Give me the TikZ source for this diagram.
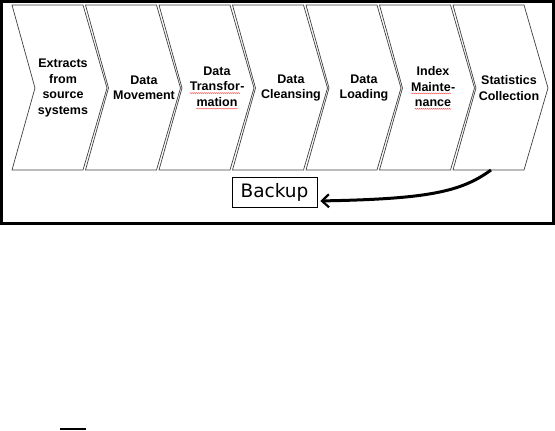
\documentclass[tikz,border=0pt]{standalone}
\usepackage{fontspec}
\usetikzlibrary{arrows.meta,decorations.pathmorphing}
\newfontfamily\arialfont{Liberation Sans}
\newfontfamily\verdanafont{DejaVu Sans}

% spell-check squiggle under a word
\newcommand*{\squig}[1]{\tikz[baseline=(w.base)]{\node[inner sep=0pt] (w) {#1};
	\draw[red!70,line width=0.4pt,decorate,decoration={snake,amplitude=0.5pt,segment length=2pt}]
	([yshift=-2pt]w.south west) -- ([yshift=-2pt]w.south east);}}

\newcommand*{\chevdx}{73.5}
\newcommand*{\chevtop}{5}
\newcommand*{\chevbot}{170}
\newcommand*{\chevmid}{88}

\begin{document}
\begin{tikzpicture}
[
	x=1pt,
	y=-1pt,
	chev/.style={draw=black!75,line width=0.7pt,fill=white},
	steptext/.style={font={\fontsize{12.5}{15.5}\selectfont\bfseries\arialfont},align=center,inner sep=0pt},
	backupbox/.style={draw,line width=0.6pt,inner sep=2pt,minimum width=85pt,minimum height=30pt,font={\fontsize{18.5}{20}\selectfont\verdanafont}},
	bigarrow/.style={line width=3pt,-{Straight Barb[length=7pt,width=13pt,line width=2.2pt]},shorten >=3pt}
]
	\useasboundingbox (0,0) rectangle (555,431);

	% frame
	\draw[line width=3pt] (1.5,1.5) rectangle (553.5,223.5);

	% chevrons
	\foreach \i in {0,...,6}
	{
		\pgfmathsetmacro{\xa}{12+\chevdx*\i}
		\draw[chev] (\xa,\chevtop) -- ++(71,0) -- ++(24,\chevmid-\chevtop) -- (\xa+71,\chevbot)
			-- (\xa,\chevbot) -- (\xa+23,\chevmid) -- cycle;
	}

	% step labels
	\node[steptext] (extract) at (63,\chevmid) {Extracts\\from\\source\\systems};
	\node[steptext] (move) at (144,\chevmid) {Data\\Movement};
	\node[steptext] (transform) at (217,\chevmid) {Data\\\squig{Transfor}-\\\squig{mation}};
	\node[steptext] (cleanse) at (291,\chevmid) {Data\\Cleansing};
	\node[steptext] (load) at (364,\chevmid) {Data\\Loading};
	\node[steptext] (index) at (433,\chevmid) {Index\\\squig{Mainte}-\\\squig{nance}};
	\node[steptext] (stats) at (509,\chevmid) {Statistics\\Collection};

	% backup
	\node[backupbox] (backup) at (274.5,192) {Backup};
	\coordinate (statsbot) at (491,\chevbot);
	\draw[bigarrow] (statsbot) .. controls +(-30,22) and +(110,-2) .. ([yshift=-9pt]backup.east);

	% stray mark
	\draw[line width=2pt] (60,429) -- (86,429);

\end{tikzpicture}
\end{document}
